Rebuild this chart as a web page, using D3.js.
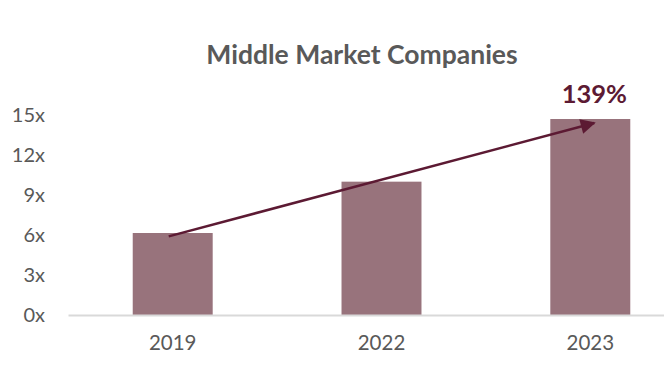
<!DOCTYPE html>
<html><head><meta charset="utf-8">
<script src="https://cdn.jsdelivr.net/npm/d3@7"></script>
<style>html,body{margin:0;padding:0;background:#fff;}svg{display:block;font-family:Lato,"Open Sans",sans-serif;}</style>
</head><body>
<svg id="c" width="664" height="384"></svg>
<script>
const title = "Middle Market Companies";
const categories = ["2019", "2022", "2023"];
const values = [6.15, 10.0, 14.7];
const yTicks = [0, 3, 6, 9, 12, 15];
const arrowFrom = { cat: "2019", value: 5.9 };
const arrowTo = { cat: "2023", value: 14.4 };
const growthLabel = "139%";

const svg = d3.select("#c");
const x = d3.scaleBand().domain(categories).range([68, 695]).paddingInner(0.617).paddingOuter(0.31);
const y = d3.scaleLinear().domain([0, 15]).range([315, 115]);

svg.append("text").attr("x", 362).attr("y", 64).attr("text-anchor", "middle")
  .attr("font-size", 26.5).attr("font-weight", 700).attr("fill", "#595959").text(title);

// y axis labels
const yAxis = d3.axisLeft(y).tickValues(yTicks).tickFormat(d => d + "x").tickSize(0).tickPadding(0);
const gy = svg.append("g").attr("transform", "translate(45,0)").call(yAxis);
gy.select(".domain").remove();
gy.selectAll("text").attr("font-size", 20).attr("fill", "#595959").attr("font-family", "Lato, sans-serif");

// bars
svg.append("g").selectAll("rect").data(categories).join("rect")
  .attr("x", d => x(d)).attr("width", x.bandwidth())
  .attr("y", (d, i) => y(values[i])).attr("height", (d, i) => y(0) - y(values[i]))
  .attr("fill", "#98737c");

// baseline / x axis
const xAxis = d3.axisBottom(x).tickSize(0).tickPadding(20);
const gx = svg.append("g").attr("transform", `translate(0,${y(0)})`).call(xAxis);
gx.select(".domain").attr("stroke", "#d9d9d9").attr("stroke-width", 2);
gx.selectAll("text").attr("font-size", 20.5).attr("fill", "#595959").attr("font-family", "Lato, sans-serif");

// arrow
const defs = svg.append("defs");
defs.append("marker").attr("id", "ah").attr("viewBox", "0 0 10 10").attr("refX", 9).attr("refY", 5)
  .attr("markerWidth", 7).attr("markerHeight", 6).attr("markerUnits", "strokeWidth").attr("orient", "auto")
  .append("path").attr("d", "M0,0 L10,5 L0,10 z").attr("fill", "#5c1a33");
const cx = c => x(c) + x.bandwidth() / 2;
svg.append("line")
  .attr("x1", cx(arrowFrom.cat) - 4).attr("y1", y(arrowFrom.value))
  .attr("x2", cx(arrowTo.cat) + 4).attr("y2", y(arrowTo.value))
  .attr("stroke", "#5c1a33").attr("stroke-width", 2.5).attr("marker-end", "url(#ah)");

svg.append("text").attr("x", cx(arrowTo.cat) + 4).attr("y", 103).attr("text-anchor", "middle")
  .attr("font-size", 25.5).attr("font-weight", 700).attr("fill", "#5c1a33").text(growthLabel);
</script>
</body></html>
